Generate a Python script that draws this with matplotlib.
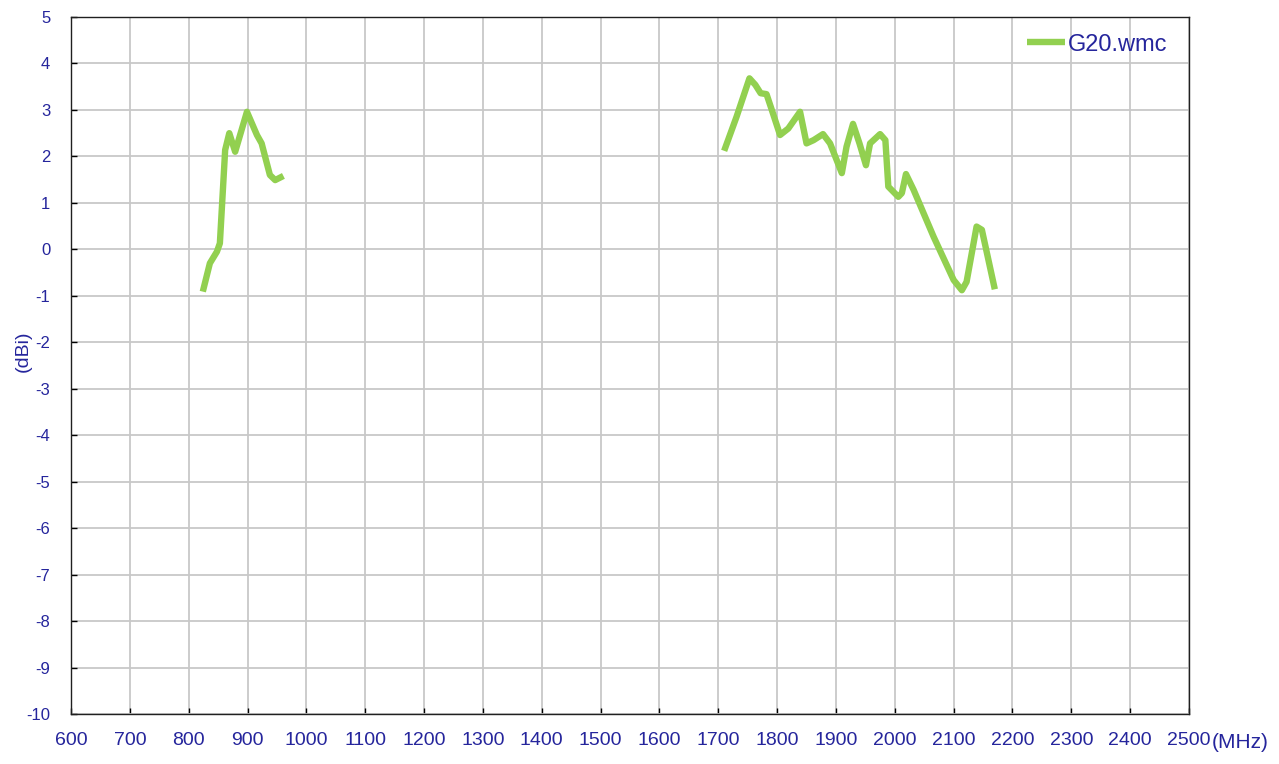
import matplotlib
matplotlib.use("Agg")
import matplotlib.pyplot as plt

plt.rcParams['font.family'] = ['Liberation Sans', 'DejaVu Sans']
plt.rcParams['axes.unicode_minus'] = False

# Data (frequency MHz, gain dBi)
low_freq = [824, 836, 848, 853, 862, 869, 879, 899, 916, 924, 938, 947, 961]
low_gain = [-0.91, -0.30, -0.05, 0.13, 2.14, 2.50, 2.10, 2.96, 2.46, 2.28, 1.60, 1.49, 1.58]

high_freq = [1710, 1731, 1753, 1763, 1772, 1782, 1791, 1805, 1819, 1839, 1850, 1862,
             1878, 1890, 1910, 1918, 1929, 1940, 1951, 1958, 1975, 1984, 1989, 2006,
             2012, 2019, 2032, 2066, 2100, 2114, 2122, 2139, 2148, 2170]
high_gain = [2.12, 2.85, 3.68, 3.54, 3.36, 3.34, 3.00, 2.46, 2.60, 2.96, 2.28, 2.35,
             2.48, 2.28, 1.64, 2.21, 2.70, 2.28, 1.81, 2.28, 2.48, 2.35, 1.35, 1.13,
             1.21, 1.62, 1.28, 0.27, -0.66, -0.88, -0.70, 0.49, 0.42, -0.86]

series_label = "G20.wmc"
x_ticks = list(range(600, 2501, 100))
y_ticks = list(range(-10, 6, 1))

text_color = '#25259C'
line_color = '#92D050'

fig = plt.figure(figsize=(12.79, 7.64), dpi=100)
ax = fig.add_axes([71/1279, 50/764, (1189-71)/1279, (714-17)/764])

ax.plot(low_freq, low_gain, color=line_color, lw=4.6, solid_joinstyle='round',
        solid_capstyle='butt', label=series_label)
ax.plot(high_freq, high_gain, color=line_color, lw=4.6, solid_joinstyle='round',
        solid_capstyle='butt')

ax.set_xlim(600, 2500)
ax.set_ylim(-10, 5)
ax.set_xticks(x_ticks)
ax.set_yticks(y_ticks)
ax.grid(True, color='#C8C8C8', lw=1.3)
ax.set_axisbelow(True)
ax.tick_params(axis='both', direction='in', length=4, width=1, colors='black')
ax.tick_params(axis='x', labelsize=14, labelcolor=text_color, pad=13)
ax.tick_params(axis='y', labelsize=12, labelcolor=text_color, pad=15)
for s in ax.spines.values():
    s.set_color('#202020')
    s.set_linewidth(1.0)

ax.set_ylabel("(dBi)", color=text_color, fontsize=14)
ax.yaxis.set_label_coords(-0.035, 0.52)
fig.text(1212/1279, 1 - 742/764, "(MHz)", color=text_color, fontsize=15,
         ha='left', va='center')

leg = ax.legend(loc='upper right', frameon=False, fontsize=17, handlelength=1.6,
                handletextpad=0.1, borderaxespad=0.3, bbox_to_anchor=(0.995, 1.0))
for t in leg.get_texts():
    t.set_color(text_color)

fig.savefig("out.png", dpi=100)
